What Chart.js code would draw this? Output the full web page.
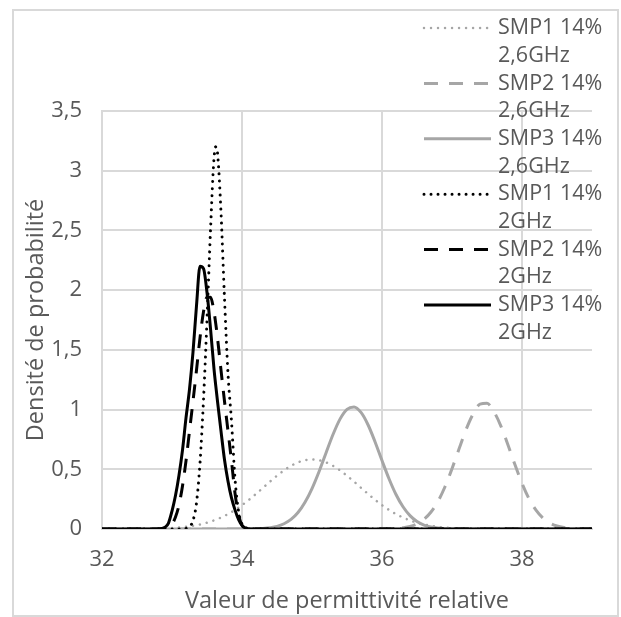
<!DOCTYPE html>
<html lang="fr">
<head>
<meta charset="utf-8">
<title>Densité de probabilité</title>
<script src="https://cdn.jsdelivr.net/npm/chart.js@4.4.0/dist/chart.umd.min.js"></script>
<style>
  html, body { margin: 0; padding: 0; background: #fff; }
  #cadre { width: 621px; height: 617px; }
</style>
</head>
<body>
<div id="cadre"><canvas id="graphe" width="621" height="617"></canvas></div>
<script>
// ------------------- données -------------------
// abscisses des courbes 2,6GHz (pas de 0,1)
const permittiviteGris = [32.0, 32.6,
  32.8, 32.9, 33.0, 33.1, 33.2, 33.3, 33.4, 33.5, 33.6, 33.7,
  33.8, 33.9, 34.0, 34.1, 34.2, 34.3, 34.4, 34.5, 34.6, 34.7,
  34.8, 34.9, 35.0, 35.1, 35.2, 35.3, 35.4, 35.5, 35.6, 35.7,
  35.8, 35.9, 36.0, 36.1, 36.2, 36.3, 36.4, 36.5, 36.6, 36.7,
  36.8, 36.9, 37.0, 37.1, 37.2, 37.3, 37.4, 37.5, 37.6, 37.7,
  37.8, 37.9, 38.0, 38.1, 38.2, 38.3, 38.4, 38.5, 38.6, 38.7,
  38.8, 39.0];

const smp1_26 = [0, 0,
  0.003, 0.005, 0.008, 0.012, 0.018, 0.027, 0.038, 0.053, 0.072, 0.096,
  0.125, 0.160, 0.200, 0.245, 0.294, 0.345, 0.397, 0.446, 0.491, 0.529,
  0.558, 0.576, 0.582, 0.576, 0.558, 0.529, 0.491, 0.446, 0.397, 0.345,
  0.294, 0.245, 0.200, 0.160, 0.125, 0.096, 0.072, 0.053, 0.038, 0.027,
  0.018, 0.012, 0.008, 0.005, 0.003, 0.002, 0.001, 0, 0, 0,
  0, 0, 0, 0, 0, 0, 0, 0, 0, 0,
  0, 0];

const smp2_26 = [0, 0,
  0, 0, 0, 0, 0, 0, 0, 0, 0, 0,
  0, 0, 0, 0, 0, 0, 0, 0, 0, 0,
  0, 0, 0, 0, 0, 0, 0, 0, 0, 0,
  0, 0, 0.001, 0.002, 0.004, 0.010, 0.021, 0.043, 0.081, 0.142,
  0.232, 0.354, 0.505, 0.670, 0.831, 0.961, 1.045, 1.052, 0.981, 0.860,
  0.704, 0.537, 0.383, 0.254, 0.158, 0.091, 0.049, 0.025, 0.012, 0.005,
  0.002, 0];

const smp3_26 = [0, 0,
  0, 0, 0, 0, 0, 0, 0, 0, 0, 0,
  0, 0, 0, 0.001, 0.002, 0.005, 0.011, 0.022, 0.044, 0.080,
  0.138, 0.224, 0.339, 0.480, 0.637, 0.791, 0.920, 1.002, 1.022, 0.976,
  0.873, 0.731, 0.573, 0.421, 0.289, 0.186, 0.112, 0.063, 0.033, 0.017,
  0.008, 0.003, 0.001, 0, 0, 0, 0, 0, 0, 0,
  0, 0, 0, 0, 0, 0, 0, 0, 0, 0,
  0, 0];

// abscisses des courbes 2GHz (pics étroits, pas plus fin)
const permittiviteNoir = [32.0, 32.6, 32.7, 32.75, 32.8, 32.85, 32.9, 32.95, 33.0, 33.05,
  33.1, 33.15, 33.2, 33.25, 33.3, 33.35, 33.4, 33.45, 33.5, 33.55,
  33.6, 33.625, 33.65, 33.7, 33.75, 33.8, 33.85, 33.9, 33.95, 34.0,
  34.05, 34.1, 34.15, 34.2, 34.25, 34.4, 39.0];

const smp1_2 = [0, 0, 0, 0, 0, 0, 0, 0, 0, 0,
  0, 0.002, 0.005, 0.02, 0.07, 0.22, 0.55, 1.08, 1.75, 2.5,
  3.1, 3.2, 3.15, 2.65, 1.93, 1.3, 0.9, 0.42, 0.15, 0.04,
  0.012, 0.003, 0, 0, 0, 0, 0];

const smp2_2 = [0, 0, 0, 0, 0, 0, 0.003, 0.012, 0.04, 0.1,
  0.2, 0.36, 0.57, 0.82, 1.07, 1.33, 1.6, 1.82, 1.94, 1.94,
  1.82, 1.72, 1.6, 1.33, 1.07, 0.82, 0.57, 0.3, 0.12, 0.03,
  0.008, 0, 0, 0, 0, 0, 0];

const smp3_2 = [0, 0, 0, 0, 0.001, 0.004, 0.015, 0.05, 0.15, 0.28,
  0.45, 0.66, 0.93, 1.17, 1.48, 1.87, 2.2, 2.18, 1.98, 1.68,
  1.34, 1.2, 1.07, 0.82, 0.58, 0.4, 0.26, 0.16, 0.08, 0.03,
  0.008, 0.002, 0, 0, 0, 0, 0];

const graduationsX = [32, 34, 36, 38];
const graduationsY = [0, 0.5, 1, 1.5, 2, 2.5, 3, 3.5];

// ------------------- styles -------------------
const GRIS = '#a6a6a6';
const NOIR = '#000000';
const TEXTE = '#595959';
const GRILLE = '#d9d9d9';
const POLICE = '"Open Sans", sans-serif';

const pointsDe = (xs, ys) => xs.map((x, i) => ({ x, y: ys[i] }));

function serie(label, xs, ys, couleur, tirets, ordre, cap) {
  return {
    label,
    data: pointsDe(xs, ys),
    showLine: true,
    borderColor: couleur,
    backgroundColor: couleur,
    borderWidth: 3,
    borderDash: tirets,
    borderCapStyle: cap || 'butt',
    pointRadius: 0,
    cubicInterpolationMode: 'monotone',
    order: ordre,
  };
}

const pointille = [0.01, 7];
const tirets = [14, 11];

const series = [
  serie('SMP1 14% 2,6GHz', permittiviteGris, smp1_26, GRIS, pointille, 2, 'round'),
  serie('SMP2 14% 2,6GHz', permittiviteGris, smp2_26, GRIS, tirets, 2),
  serie('SMP3 14% 2,6GHz', permittiviteGris, smp3_26, GRIS, [], 2),
  serie('SMP1 14% 2GHz', permittiviteNoir, smp1_2, NOIR, pointille, 1, 'round'),
  serie('SMP2 14% 2GHz', permittiviteNoir, smp2_2, NOIR, tirets, 1),
  serie('SMP3 14% 2GHz', permittiviteNoir, smp3_2, NOIR, [], 1),
];
series[0].borderWidth = 2.5;

// cadre gris autour du graphique
const cadre = {
  id: 'cadre',
  beforeDraw(chart) {
    const ctx = chart.ctx;
    ctx.save();
    ctx.fillStyle = '#fff';
    ctx.fillRect(0, 0, chart.width, chart.height);
    ctx.strokeStyle = GRILLE;
    ctx.lineWidth = 2;
    ctx.strokeRect(13, 10, 605, 606);
    ctx.restore();
  }
};

// légende à droite, libellés sur deux lignes
const legendeDroite = {
  id: 'legendeDroite',
  afterDatasetsDraw(chart) {
    const ctx = chart.ctx;
    const y0 = 28, pasLigne = 27.7;
    ctx.save();
    ctx.font = '21.5px ' + POLICE;
    ctx.fillStyle = TEXTE;
    ctx.textBaseline = 'middle';
    chart.data.datasets.forEach((ds, i) => {
      const y = y0 + i * 2 * pasLigne;
      ctx.save();
      ctx.strokeStyle = ds.borderColor;
      ctx.lineWidth = ds.borderWidth;
      ctx.setLineDash(ds.borderDash || []);
      ctx.lineCap = ds.borderCapStyle;
      ctx.beginPath();
      ctx.moveTo(424, y);
      ctx.lineTo(491, y);
      ctx.stroke();
      ctx.restore();
      const coupe = ds.label.lastIndexOf(' ');
      ctx.fillText(ds.label.slice(0, coupe), 498, y);
      ctx.fillText(ds.label.slice(coupe + 1), 498, y + pasLigne);
    });
    ctx.restore();
  }
};

const virgule = (v) => String(v).replace('.', ',');

new Chart(document.getElementById('graphe'), {
  type: 'scatter',
  data: { datasets: series },
  options: {
    responsive: false,
    animation: false,
    events: [],
    layout: { padding: { top: 111, right: 29, bottom: 0, left: 0 } },
    plugins: { legend: { display: false }, tooltip: { enabled: false } },
    scales: {
      x: {
        type: 'linear',
        min: 32,
        max: 39,
        afterBuildTicks: (axe) => { axe.ticks = graduationsX.map((value) => ({ value })); },
        afterFit: (axe) => { axe.height = 88; },
        grid: { color: GRILLE, lineWidth: 2, drawTicks: false },
        border: { color: GRILLE, width: 2 },
        ticks: { color: TEXTE, font: { family: POLICE, size: 22 }, padding: 18, callback: virgule },
        title: {
          display: true,
          text: 'Valeur de permittivité relative',
          color: TEXTE,
          font: { family: POLICE, size: 23.5 },
          padding: { top: 0, bottom: 2 },
        },
      },
      y: {
        min: 0,
        max: 3.5,
        afterBuildTicks: (axe) => { axe.ticks = graduationsY.map((value) => ({ value })); },
        afterFit: (axe) => { axe.width = 102; },
        grid: { color: GRILLE, lineWidth: 2, drawTicks: false },
        border: { color: GRILLE, width: 2 },
        ticks: { color: TEXTE, font: { family: POLICE, size: 22 }, padding: 20, callback: virgule },
        title: {
          display: true,
          text: 'Densité de probabilité',
          color: TEXTE,
          font: { family: POLICE, size: 23.5 },
          padding: { top: 22, bottom: 0 },
        },
      },
    },
  },
  plugins: [cadre, legendeDroite],
});
</script>
</body>
</html>
